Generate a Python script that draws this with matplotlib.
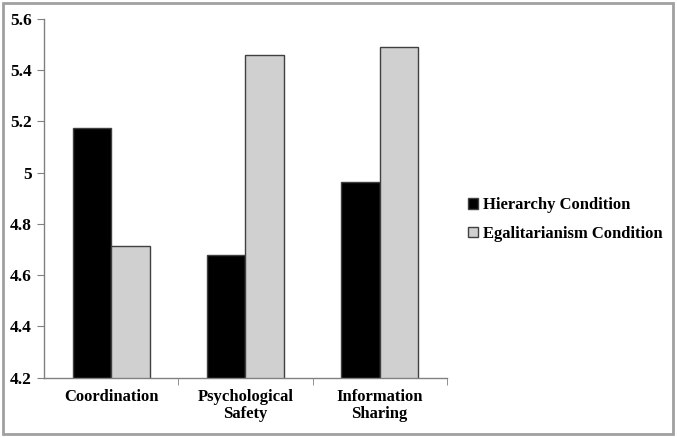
import matplotlib.pyplot as plt
import numpy as np
from matplotlib.patches import Rectangle

categories = ['Coordination', 'Psychological\nSafety', 'Information\nSharing']
hierarchy = [5.175, 4.68, 4.963]
egalitarian = [4.713, 5.457, 5.49]
series_names = ['Hierarchy Condition', 'Egalitarianism Condition']
yticks = [4.2, 4.4, 4.6, 4.8, 5.0, 5.2, 5.4, 5.6]
ytick_labels = ['4.2', '4.4', '4.6', '4.8', '5', '5.2', '5.4', '5.6']

plt.rcParams['font.family'] = ['Liberation Serif', 'DejaVu Serif']
plt.rcParams['font.weight'] = 'bold'

fig = plt.figure(figsize=(6.77, 4.37), dpi=100)
ax = fig.add_axes([0.065, 0.136, 0.595, 0.821])

# outer grey frame around the whole chart
fig.patches.append(Rectangle((0.005, 0.008), 0.989, 0.985, transform=fig.transFigure,
                             fill=False, edgecolor='#a0a0a0', linewidth=2))

x = np.arange(len(categories))
w = 0.287
ax.bar(x - w / 2, hierarchy, w, color='black', edgecolor='#404040',
       linewidth=1, label=series_names[0])
ax.bar(x + w / 2, egalitarian, w, color='#d0d0d0', edgecolor='#404040',
       linewidth=1, label=series_names[1])

ax.set_ylim(4.2, 5.6)
ax.set_xlim(-0.5, 2.5)
ax.set_yticks(yticks)
ax.set_yticklabels(ytick_labels, fontsize=12.5, fontweight='bold')
ax.set_xticks(x)
ax.set_xticklabels(categories, fontsize=12, fontweight='bold', linespacing=1.15)
ax.set_xticks([0.5, 1.5, 2.5], minor=True)
ax.tick_params(axis='x', which='major', length=0, pad=8)
ax.tick_params(axis='x', which='minor', length=5, color='#808080', direction='out')
ax.tick_params(axis='y', length=5, color='#808080', direction='out', pad=4)

for s in ['top', 'right']:
    ax.spines[s].set_visible(False)
for s in ['left', 'bottom']:
    ax.spines[s].set_color('#808080')
    ax.spines[s].set_linewidth(1)

leg = ax.legend(loc='center left', bbox_to_anchor=(1.015, 0.44), frameon=False,
                prop={'size': 12, 'weight': 'bold'}, handlelength=0.6, handleheight=0.6,
                handletextpad=0.3, labelspacing=0.75)

fig.savefig('out.png', dpi=100)
